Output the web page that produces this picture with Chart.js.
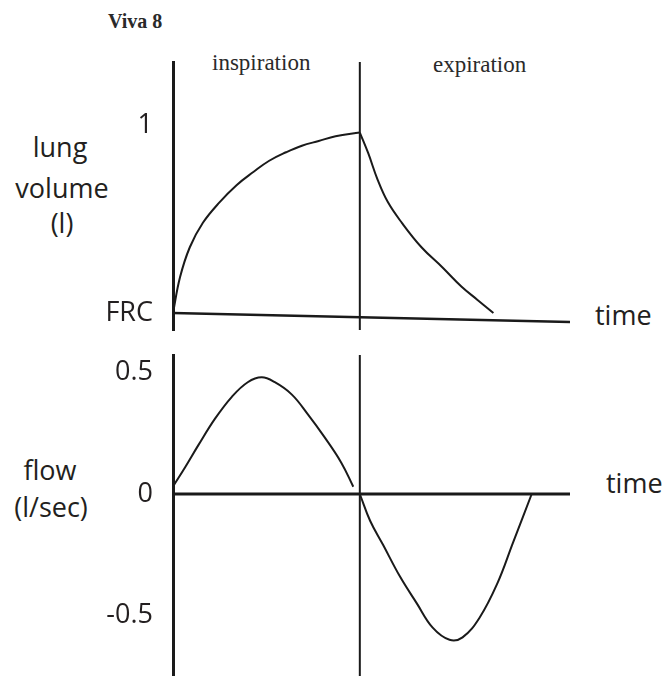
<!DOCTYPE html>
<html lang="en">
<head>
  <meta charset="UTF-8" />
  <title>Viva 8</title>
  <script src="https://cdn.jsdelivr.net/npm/chart.js"></script>
  <style>
    body {
      margin: 0;
      background: #ffffff;
    }
    .page {
      position: relative;
      width: 670px;
      height: 676px;
      overflow: hidden;
    }
    canvas {
      position: absolute;
      left: 0;
    }
    .lbl {
      position: absolute;
      line-height: 1;
      white-space: nowrap;
      color: #231f20;
    }
    .sans {
      font-family: 'Open Sans', sans-serif;
      font-size: 27px;
    }
    .serif {
      font-family: 'Liberation Serif', serif;
      font-size: 23px;
      color: #2a2a2a;
    }
    .mid {
      transform: translateX(-50%);
    }
  </style>
</head>
<body>
  <div class="page">
    <div class="lbl serif" style="left:108px; top:11px; font-size:20px; font-weight:bold;">Viva 8</div>
    <div class="lbl serif" style="left:212px; top:51px;">inspiration</div>
    <div class="lbl serif" style="left:433px; top:53px;">expiration</div>

    <div class="lbl sans mid" style="left:60px; top:133px;">lung</div>
    <div class="lbl sans mid" style="left:62px; top:174px;">volume</div>
    <div class="lbl sans mid" style="left:62px; top:209px;">(l)</div>
    <div class="lbl sans" style="left:595px; top:301px;">time</div>

    <div class="lbl sans mid" style="left:50px; top:456px;">flow</div>
    <div class="lbl sans mid" style="left:51px; top:493px;">(l/sec)</div>
    <div class="lbl sans" style="left:606px; top:469px;">time</div>

    <canvas id="volumeChart" width="670" height="340" style="top:0px;"></canvas>
    <canvas id="flowChart" width="670" height="336" style="top:340px;"></canvas>
  </div>

  <script>
    // time of the switch from inspiration to expiration
    const switchTime = 2;

    // lung volume above FRC (l)
    const inspTime = [0, 0.075, 0.18, 0.32, 0.50, 0.68, 0.86, 1.03, 1.21, 1.38, 1.56, 1.74, 2.0];
    const inspVolume = [0, 0.19, 0.35, 0.48, 0.59, 0.68, 0.75, 0.81, 0.855, 0.89, 0.915, 0.94, 0.96];
    const expTime = [2.0, 2.09, 2.19, 2.30, 2.45, 2.66, 2.88, 3.09, 3.26, 3.43];
    const expVolume = [0.96, 0.85, 0.71, 0.59, 0.48, 0.35, 0.245, 0.14, 0.07, 0.0];
    const baselineTime = [0, 4.25];
    const baselineVolume = [0, -0.048];
    const volumeTicks = [0, 1];
    const volumeTickLabels = ['FRC', '1'];

    // flow (l/sec)
    const inspFlowTime = [0.01, 0.13, 0.27, 0.45, 0.63, 0.80, 0.95, 1.09, 1.27, 1.44, 1.62, 1.80, 1.93];
    const inspFlow = [0.037, 0.11, 0.20, 0.31, 0.40, 0.46, 0.48, 0.46, 0.41, 0.33, 0.235, 0.13, 0.03];
    const expFlowTime = [2.0, 2.11, 2.25, 2.43, 2.61, 2.78, 2.96, 3.10, 3.28, 3.47, 3.64, 3.84];
    const expFlow = [0, -0.11, -0.21, -0.34, -0.45, -0.55, -0.60, -0.59, -0.51, -0.37, -0.20, 0];
    const zeroTime = [0, 4.25];
    const zeroFlow = [0, 0];
    const flowTicks = [-0.5, 0, 0.5];
    const flowTickLabels = ['-0.5', '0', '0.5'];

    const ink = '#1a1a1a';
    const toPoints = (xs, ys) => xs.map((x, i) => ({ x: x, y: ys[i] }));

    function curve(points, width) {
      return {
        data: points,
        borderColor: ink,
        borderWidth: width,
        pointRadius: 0,
        tension: 0.4,
        fill: false
      };
    }

    function yAxis(min, max, ticks, labels) {
      return {
        type: 'linear',
        min: min,
        max: max,
        afterFit: s => {
          s.width = 173;
          // labels sit inside the axis, no extra room needed above or below
          s.paddingTop = 0;
          s.paddingBottom = 0;
        },
        afterBuildTicks: s => { s.ticks = ticks.map(v => ({ value: v })); },
        grid: { display: true, drawOnChartArea: false, drawTicks: false },
        border: { display: true, color: ink, width: 3 },
        ticks: {
          padding: 20,
          color: '#231f20',
          font: { family: 'Open Sans', size: 27 },
          callback: (v, i) => labels[i]
        }
      };
    }

    function makeChart(id, datasets, y, padding) {
      return new Chart(document.getElementById(id), {
        type: 'line',
        data: { datasets: datasets },
        options: {
          responsive: false,
          animation: false,
          layout: { padding: padding },
          plugins: { legend: { display: false }, tooltip: { enabled: false } },
          scales: {
            x: { type: 'linear', min: 0, max: 4.25, display: false },
            y: y
          }
        }
      });
    }

    // Lung volume
    const volMin = -0.09, volMax = 1.335;
    makeChart('volumeChart', [
      curve(toPoints(baselineTime, baselineVolume), 2.5),
      curve(toPoints([switchTime, switchTime], [volMin, volMax]), 2),
      curve(toPoints(inspTime, inspVolume), 2),
      curve(toPoints(expTime, expVolume), 2)
    ], yAxis(volMin, volMax, volumeTicks, volumeTickLabels),
    { left: 0, right: 100, top: 62, bottom: 10 });

    // Flow
    const flowMin = -0.749, flowMax = 0.572;
    makeChart('flowChart', [
      curve(toPoints(zeroTime, zeroFlow), 3),
      curve(toPoints([switchTime, switchTime], [flowMin, flowMax]), 2),
      curve(toPoints(inspFlowTime, inspFlow), 2),
      curve(toPoints(expFlowTime, expFlow), 2)
    ], yAxis(flowMin, flowMax, flowTicks, flowTickLabels),
    { left: 0, right: 100, top: 15, bottom: 0 });
  </script>
</body>
</html>
